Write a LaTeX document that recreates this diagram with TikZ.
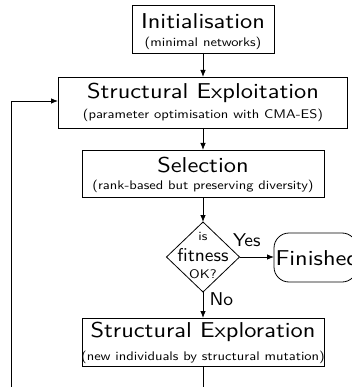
\documentclass[tikz,border=0pt]{standalone}
\usepackage{graphicx}
\usetikzlibrary{arrows.meta,shapes.geometric}
\newcommand\ttltext[1]{\scalebox{2.44}[2.15]{\fontsize{10}{12}\selectfont\sffamily #1}}
\newcommand\subtext[1]{\scalebox{1.45}[1.25]{\fontsize{10}{12}\selectfont\sffamily #1}}
\newcommand\midtext[1]{\scalebox{1.95}[1.85]{\fontsize{10}{12}\selectfont\sffamily #1}}
\begin{document}
\begin{tikzpicture}[x=1pt,y=-1pt,
  font=\sffamily,
  every node/.style={inner sep=0pt,outer sep=0pt},
  boxnode/.style={draw,line width=0.8pt},
  lbl/.style={anchor=base},
  conn/.style={line width=0.8pt,-{Latex[length=7pt,width=5.5pt]}},
  plainline/.style={line width=0.8pt}]
\useasboundingbox (0,0) rectangle (352,387);
\clip (0,0) rectangle (352,387);
% boxes
\node[boxnode,minimum width=142pt,minimum height=48pt] (init) at (203,29) {};
\node[lbl] (initt) at (203,29) {\ttltext{Initialisation}};
\node[lbl] (inits) at (203,47) {\subtext{(minimal networks)}};

\node[boxnode,minimum width=289pt,minimum height=51pt] (exploit) at (202.5,102.5) {};
\node[lbl] (exploitt) at (203,98.5) {\ttltext{Structural Exploitation}};
\node[lbl] (exploits) at (203,119) {\subtext{(parameter optimisation with CMA-ES)}};

\node[boxnode,minimum width=242pt,minimum height=47pt] (sel) at (203,173.5) {};
\node[lbl] (selt) at (203,172) {\ttltext{Selection}};
\node[lbl] (sels) at (203,189) {\subtext{(rank-based but preserving diversity)}};

\node[draw,line width=0.8pt,diamond,minimum width=73pt,minimum height=70pt] (dec) at (203,257) {};
\node[lbl] (deca) at (203,240) {\subtext{is}};
\node[lbl] (decb) at (203,261.5) {\midtext{fitness}};
\node[lbl] (decc) at (203,278) {\subtext{OK?}};

\node[draw,line width=0.8pt,rounded corners=15pt,minimum width=83pt,minimum height=49pt,anchor=west] (fin) at (274,257.5) {};
\node[lbl,anchor=base west] (fint) at (275.5,265) {\ttltext{Finished}};

\node[boxnode,minimum width=242pt,minimum height=48pt] (explore) at (203,342) {};
\node[lbl] (exploret) at (203,337) {\ttltext{Structural Exploration}};
\node[lbl] (explores) at (203,360) {\subtext{(new individuals by structural mutation)}};

\node[lbl,anchor=base west] (yes) at (233,246.5) {\midtext{Yes}};
\node[lbl,anchor=base west] (no) at (209.5,305) {\midtext{No}};

\coordinate (bot) at (203,400);
\coordinate (botl) at (11,400);
\coordinate (topl) at (11,101);

% connectors
\draw[conn] (init.south) -- (exploit.north -| init.south);
\draw[conn] (exploit.south -| sel.north) -- (sel.north);
\draw[conn] (sel.south) -- (dec.north);
\draw[conn] (dec.east) -- (fin.west |- dec.east);
\draw[conn] (dec.south) -- (explore.north);
\draw[plainline] (explore.south) -- (bot) -- (botl) -- (topl);
\draw[conn] (topl) -- (topl -| exploit.west);
\end{tikzpicture}
\end{document}
